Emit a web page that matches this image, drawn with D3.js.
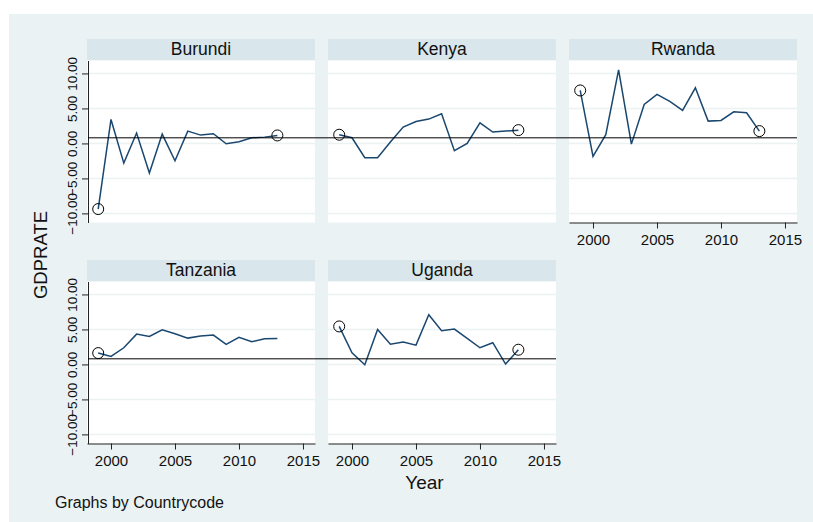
<!DOCTYPE html>
<html>
<head>
<meta charset="utf-8">
<script src="https://cdn.jsdelivr.net/npm/d3@7"></script>
<style>
  body { margin: 0; background: #fff; }
  text { font-family: "Liberation Sans", Arial, sans-serif; fill: #111; }
</style>
</head>
<body>
<svg id="chart" width="813" height="522"></svg>
<script>
// data
const years = [1999, 2000, 2001, 2002, 2003, 2004, 2005, 2006, 2007, 2008, 2009, 2010, 2011, 2012, 2013];
const countries = ["Burundi", "Kenya", "Rwanda", "Tanzania", "Uganda"];
const burundi = [-9.38, 3.43, -2.81, 1.48, -4.24, 1.33, -2.48, 1.76, 1.19, 1.38, -0.05, 0.24, 0.81, 0.9, 1.14];
const kenya = [1.24, 0.81, -2.05, -2.05, 0.19, 2.33, 3.14, 3.48, 4.24, -1.05, 0.0, 2.95, 1.62, 1.76, 1.9];
const rwanda = [7.57, -1.86, 1.24, 10.52, -0.1, 5.57, 7.0, 6.0, 4.71, 7.95, 3.19, 3.29, 4.52, 4.38, 1.76];
const tanzania = [1.62, 1.14, 2.38, 4.33, 4.0, 4.95, 4.38, 3.76, 4.05, 4.19, 2.86, 3.86, 3.24, 3.67, 3.71];
const uganda = [5.43, 1.67, -0.05, 5.0, 2.9, 3.19, 2.76, 7.1, 4.81, 5.05, 3.71, 2.38, 3.1, 0.05, 2.1];
const circledYears = [[1999, 2013], [1999, 2013], [1999, 2013], [1999], [1999, 2013]];
const yTicks = [-10, -5, 0, 5, 10];
const xTicks = [2000, 2005, 2010, 2015];
const refValue = 0.8;

const series = [burundi, kenya, rwanda, tanzania, uganda];

const svg = d3.select("#chart");
const colLeft = [87, 328, 569];
const rowTop = [39, 260];
const panelW = 228, stripH = 21.5, plotH = 162;
const lineColor = "#1a476f";

svg.append("rect").attr("x", 9).attr("y", 14).attr("width", 804).attr("height", 508).attr("fill", "#eaf2f3");

const x = d3.scaleLinear().domain([1998.125, 2015.94]).range([0, panelW]);
const y = d3.scaleLinear().domain([-11.3, 11.85]).range([plotH, 0]);

const line = d3.line()
    .x((d, i) => x(years[i]))
    .y(d => y(d));

countries.forEach((name, k) => {
    const row = k < 3 ? 0 : 1;
    const col = k < 3 ? k : k - 3;
    const left = colLeft[col];
    const top = rowTop[row] + stripH;

    // strip title
    svg.append("rect").attr("x", left).attr("y", rowTop[row]).attr("width", panelW).attr("height", stripH).attr("fill", "#d9e6eb");
    svg.append("text")
        .attr("x", left + panelW / 2).attr("y", rowTop[row] + 15.5)
        .attr("text-anchor", "middle").style("font-size", "17.5px")
        .text(name);

    const g = svg.append("g").attr("transform", "translate(" + left + "," + top + ")");
    g.append("rect").attr("width", panelW).attr("height", plotH).attr("fill", "#fff");

    // grid lines
    g.selectAll(".grid").data(yTicks).enter().append("line")
        .attr("x1", 0).attr("x2", panelW)
        .attr("y1", d => y(d)).attr("y2", d => y(d))
        .attr("stroke", "#eaf2f3").attr("stroke-width", 1.5);

    if (col === 0) {
        const yAxis = d3.axisLeft(y).tickValues(yTicks).tickSize(6).tickSizeOuter(0)
            .tickFormat(d3.format(".2f"));
        const ya = g.append("g").attr("transform", "translate(1,0)").call(yAxis);
        ya.select(".domain").attr("stroke", "#222");
        ya.selectAll(".tick line").attr("stroke", "#222");
        ya.selectAll("text")
            .attr("transform", "rotate(-90)")
            .attr("x", 0).attr("y", -11).attr("dy", 0)
            .attr("text-anchor", "middle")
            .style("font-size", "13.5px").style("font-family", "'Liberation Sans', Arial, sans-serif").attr("fill", "#111");
    }

    // x axis on the bottom panel of each column
    if (row === 1 || col === 2) {
        const xAxis = d3.axisBottom(x).tickValues(xTicks).tickSize(6).tickSizeOuter(0).tickPadding(6)
            .tickFormat(d3.format("d"));
        const xa = g.append("g").attr("transform", "translate(0," + plotH + ")").call(xAxis);
        xa.select(".domain").attr("stroke", "#222");
        xa.selectAll(".tick line").attr("stroke", "#222");
        xa.selectAll("text").style("font-size", "15px")
            .style("font-family", "'Liberation Sans', Arial, sans-serif").attr("fill", "#111");
    }

    g.append("path")
        .attr("d", line(series[k]))
        .attr("fill", "none").attr("stroke", lineColor).attr("stroke-width", 1.5);

    g.selectAll(".mark").data(circledYears[k]).enter().append("circle")
        .attr("cx", d => x(d))
        .attr("cy", d => y(series[k][years.indexOf(d)]))
        .attr("r", 5.5)
        .attr("fill", "none").attr("stroke", "#000").attr("stroke-width", 1);
});

// reference line running across each row
[[0, 797], [1, 556]].forEach(([row, right]) => {
    const yy = rowTop[row] + stripH + y(refValue);
    svg.append("line")
        .attr("x1", colLeft[0] + 1).attr("x2", right)
        .attr("y1", yy).attr("y2", yy)
        .attr("stroke", "#000").attr("stroke-width", 1);
});

svg.append("text")
    .attr("transform", "translate(47,255) rotate(-90)")
    .attr("text-anchor", "middle").style("font-size", "18.5px")
    .text("GDPRATE");

svg.append("text")
    .attr("x", 424.5).attr("y", 489)
    .attr("text-anchor", "middle").style("font-size", "19px")
    .text("Year");

svg.append("text")
    .attr("x", 55).attr("y", 508)
    .style("font-size", "16px")
    .text("Graphs by Countrycode");
</script>
</body>
</html>
